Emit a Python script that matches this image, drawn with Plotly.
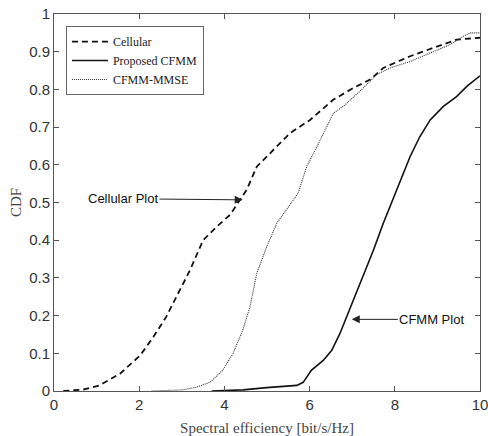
import plotly.graph_objects as go

# Cellular (dashed)
cell_x = [0.22, 0.69, 1.07, 1.55, 2.02, 2.33, 2.63, 2.96, 3.19, 3.50, 3.82, 4.13, 4.33, 4.52,
          4.76, 5.23, 5.54, 6.01, 6.56, 7.03, 7.42, 7.73, 8.36, 8.90, 9.45, 10.0]
cell_y = [0.0, 0.004, 0.015, 0.046, 0.094, 0.143, 0.196, 0.267, 0.32, 0.40, 0.436, 0.467, 0.50, 0.533,
          0.595, 0.648, 0.684, 0.719, 0.773, 0.804, 0.826, 0.857, 0.888, 0.91, 0.932, 0.937]

# Proposed CFMM (solid)
cfmm_x = [3.70, 4.44, 4.99, 5.38, 5.70, 5.85, 6.04, 6.32, 6.52, 6.71, 6.87, 7.03, 7.26, 7.50,
          7.73, 8.04, 8.36, 8.59, 8.83, 9.14, 9.45, 9.69, 10.0]
cfmm_y = [0.0, 0.003, 0.009, 0.012, 0.015, 0.023, 0.055, 0.081, 0.108, 0.152, 0.196, 0.241, 0.303, 0.374,
          0.445, 0.533, 0.622, 0.675, 0.719, 0.755, 0.781, 0.808, 0.836]

# CFMM-MMSE (dotted)
mmse_x = [2.29, 3.03, 3.34, 3.66, 3.96, 4.20, 4.43, 4.60, 4.76, 4.99, 5.23, 5.46, 5.62, 5.73,
          5.93, 6.17, 6.56, 6.79, 7.18, 7.57, 7.89, 8.36, 8.83, 9.30, 9.61, 9.77, 10.0]
mmse_y = [0.0, 0.003, 0.01, 0.023, 0.055, 0.099, 0.161, 0.223, 0.312, 0.382, 0.445, 0.48, 0.507, 0.525,
          0.595, 0.648, 0.737, 0.755, 0.795, 0.839, 0.857, 0.874, 0.897, 0.919, 0.941, 0.95, 0.95]

x_ticks = [0, 2, 4, 6, 8, 10]
y_ticks = [0, 0.1, 0.2, 0.3, 0.4, 0.5, 0.6, 0.7, 0.8, 0.9, 1]
y_tick_text = ["0", "0.1", "0.2", "0.3", "0.4", "0.5", "0.6", "0.7", "0.8", "0.9", "1"]

serif = "Liberation Serif"
sans = "Liberation Sans, Arial, sans-serif"

fig = go.Figure()
fig.add_trace(go.Scatter(x=cell_x, y=cell_y, mode="lines", name="Cellular",
                         line=dict(color="#111111", width=1.8, dash="6px,4px")))
fig.add_trace(go.Scatter(x=cfmm_x, y=cfmm_y, mode="lines", name="Proposed CFMM",
                         line=dict(color="#111111", width=1.6)))
fig.add_trace(go.Scatter(x=mmse_x, y=mmse_y, mode="lines", name="CFMM-MMSE",
                         line=dict(color="#333333", width=1.1, dash="1px,1px")))

fig.add_annotation(x=4.43, y=0.507, ax=1.62, ay=0.51, axref="x", ayref="y",
                   text="Cellular Plot", showarrow=True, arrowhead=2, arrowsize=1.6,
                   arrowwidth=1, arrowcolor="#222222",
                   font=dict(family=sans, size=13, color="#111111"))
fig.add_annotation(x=6.99, y=0.19, ax=8.87, ay=0.19, axref="x", ayref="y",
                   text="CFMM Plot", showarrow=True, arrowhead=2, arrowsize=1.6,
                   arrowwidth=1, arrowcolor="#222222",
                   font=dict(family=sans, size=13, color="#111111"))

axis_common = dict(showgrid=False, zeroline=False, showline=True, linecolor="#555555",
                   linewidth=1, mirror="ticks", ticks="inside", ticklen=5, automargin=False,
                   ticklabeloverflow="allow",
                   tickcolor="#555555", tickfont=dict(family=sans, size=15, color="#333333"))

fig.update_xaxes(range=[0, 10], tickvals=x_ticks,
                 title=dict(text="Spectral efficiency [bit/s/Hz]",
                            font=dict(family=serif, size=15, color="#444444")),
                 **axis_common)
fig.update_yaxes(range=[0, 1], tickvals=y_ticks, ticktext=y_tick_text,
                 title=dict(text="CDF", font=dict(family=serif, size=15, color="#444444"),
                            standoff=3),
                 **axis_common)

fig.update_layout(
    width=488, height=436,
    margin=dict(l=54, r=8, t=14, b=45),
    paper_bgcolor="white", plot_bgcolor="white",
    showlegend=True,
    legend=dict(x=0.028, y=0.968, xanchor="left", yanchor="top",
                bgcolor="white", bordercolor="#666666", borderwidth=1,
                font=dict(family=serif, size=12, color="#222222"),
                itemwidth=36, tracegroupgap=0),
)

fig.write_html("out.html", config={"displayModeBar": False},
               post_script="document.body.style.margin='0';document.body.style.overflow='hidden';")
